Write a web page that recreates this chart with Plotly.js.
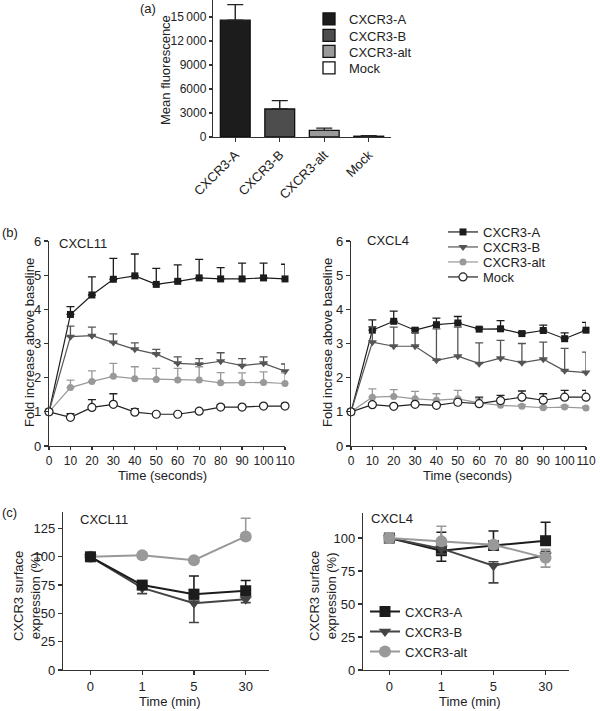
<!DOCTYPE html>
<html>
<head>
<meta charset="utf-8">
<script src="https://cdn.plot.ly/plotly-3.0.1.min.js"></script>
<style>html,body{margin:0;padding:0;background:#fff}#chart{width:600px;height:711px}</style>
</head>
<body>
<div id="chart"></div>
<script>
// ---------- data ----------
var receptors = ['CXCR3-A', 'CXCR3-B', 'CXCR3-alt', 'Mock'];
var meanFluorescence = [14600, 3500, 830, 100];
var meanFluorescenceErr = [1950, 1050, 280, 60];
var fluoTickVals = [0, 3000, 6000, 9000, 12000, 15000];
var fluoTickText = ['0', '3000', '6000', '9000', '12\u2009000', '15\u2009000'];

var timeSec = [0, 10, 20, 30, 40, 50, 60, 70, 80, 90, 100, 110];
var cxcl11A = [1, 3.85, 4.42, 4.88, 4.98, 4.73, 4.82, 4.92, 4.89, 4.89, 4.92, 4.89];
var cxcl11AErr = [0, 0.23, 0.53, 0.61, 0.64, 0.47, 0.48, 0.54, 0.33, 0.46, 0.43, 0.43];
var cxcl11B = [1, 3.2, 3.23, 3.03, 2.83, 2.69, 2.42, 2.39, 2.48, 2.35, 2.42, 2.19];
var cxcl11BErr = [0, 0.31, 0.25, 0.25, 0.19, 0.14, 0.19, 0.17, 0.25, 0.21, 0.19, 0.21];
var cxcl11Alt = [1, 1.71, 1.89, 2.04, 1.97, 1.95, 1.93, 1.93, 1.85, 1.85, 1.86, 1.83];
var cxcl11AltErr = [0, 0.22, 0.31, 0.38, 0.35, 0.32, 0.34, 0.39, 0.3, 0.29, 0.31, 0.31];
var cxcl11Mock = [1, 0.84, 1.13, 1.22, 0.99, 0.93, 0.93, 1.02, 1.14, 1.14, 1.17, 1.17];
var cxcl11MockErr = [0, 0.11, 0.23, 0.31, 0.1, 0.03, 0.03, 0.05, 0.06, 0.06, 0.05, 0.08];

var cxcl4A = [1, 3.39, 3.65, 3.39, 3.55, 3.6, 3.42, 3.43, 3.29, 3.38, 3.14, 3.39];
var cxcl4AErr = [0, 0.3, 0.3, 0.06, 0.19, 0.19, 0.05, 0.24, 0.05, 0.16, 0.17, 0.23];
var cxcl4B = [1, 3.04, 2.92, 2.92, 2.51, 2.63, 2.41, 2.57, 2.44, 2.54, 2.2, 2.15];
var cxcl4BErr = [0, 0.45, 0.56, 0.4, 0.92, 0.85, 0.61, 0.52, 0.56, 0.5, 0.66, 0.6];
var cxcl4Alt = [1, 1.43, 1.45, 1.38, 1.34, 1.38, 1.26, 1.19, 1.16, 1.12, 1.14, 1.11];
var cxcl4AltErr = [0, 0.24, 0.2, 0.22, 0.19, 0.25, 0.12, 0.06, 0.05, 0.04, 0.05, 0.05];
var cxcl4Mock = [1, 1.21, 1.16, 1.22, 1.19, 1.28, 1.24, 1.33, 1.43, 1.34, 1.43, 1.43];
var cxcl4MockErr = [0, 0.05, 0.05, 0.05, 0.05, 0.05, 0.19, 0.15, 0.18, 0.19, 0.2, 0.2];

var timeMinLabels = ['0', '1', '5', '30'];
var timeMinPos = [0, 1, 2, 3];
var surf11A = [100, 75, 67, 70];
var surf11AUp = [3, 3, 16, 9];
var surf11ADown = [3, 3, 3, 3];
var surf11B = [100, 72.5, 59, 62.5];
var surf11BUp = [3, 3, 3, 3];
var surf11BDown = [3, 5, 17, 3];
var surf11Alt = [100, 101.4, 97, 118];
var surf11AltUp = [3, 2, 2, 16];
var surf11AltDown = [3, 2, 2, 3];

var surf4A = [100, 90.4, 94.4, 98];
var surf4AUp = [3, 14, 11, 14];
var surf4ADown = [3, 8, 3, 3];
var surf4B = [100, 92, 79, 87];
var surf4BUp = [3, 3, 3, 3];
var surf4BDown = [3, 4, 13, 3];
var surf4Alt = [100, 97.5, 95, 85];
var surf4AltUp = [3, 11.5, 3, 6.5];
var surf4AltDown = [3, 3, 3, 7];

// ---------- styles ----------
var FONT = 'Liberation Sans, Arial, Helvetica, sans-serif';
var TXT = '#222';
var barColors = ['#1c1c1c', '#4d4d4d', '#9a9a9a', '#ffffff'];
var cA = '#1c1c1c', cB = '#555555', cAlt = '#999999', cMock = '#222222';
var W = 600, H = 711;
function px(x) { return x / W; }
function py(y) { return 1 - y / H; }

var traces = [];
var legends = {};
var legendCount = 0;
function newLegend(xLeft, yCenter) {
  legendCount += 1;
  var key = legendCount === 1 ? 'legend' : 'legend' + legendCount;
  legends[key] = {x: px(xLeft), y: py(yCenter), xanchor: 'left', yanchor: 'middle', bgcolor: 'rgba(0,0,0,0)',
    borderwidth: 0, font: {family: FONT, size: 13, color: TXT}, tracegroupgap: 0};
  return key;
}

// panel (a) bars
var aRows = [19, 35.5, 51.5, 68];
receptors.forEach(function (r, i) {
  traces.push({
    type: 'bar', x: [r], y: [meanFluorescence[i]], name: r,
    xaxis: 'x', yaxis: 'y', width: 0.67, legend: newLegend(309, aRows[i]),
    marker: {color: barColors[i], line: {color: '#111', width: 1.3}},
    error_y: {type: 'data', symmetric: false, array: [meanFluorescenceErr[i]], arrayminus: [0],
      color: '#222', thickness: 1.4, width: 8}
  });
});

function series(x, y, err, xa, ya, name, color, sym, mfill, leg) {
  var open = sym === 'circle' && mfill === '#ffffff';
  return {
    type: 'scatter', mode: 'lines+markers', x: x, y: y, name: name,
    xaxis: xa, yaxis: ya, showlegend: !!leg, legend: leg || 'legend', cliponaxis: false,
    line: {color: color, width: 1.2},
    marker: {symbol: sym, size: sym === 'triangle-down' ? 8 : (open ? 8 : 7), color: mfill,
      line: {color: color, width: open ? 1.2 : 0}},
    error_y: {type: 'data', symmetric: false, array: err, arrayminus: err.map(function () { return 0; }),
      color: color, thickness: 1.3, width: 4}
  };
}
// panel (b) left
traces.push(series(timeSec, cxcl11A, cxcl11AErr, 'x2', 'y2', 'CXCR3-A', cA, 'square', cA, null));
traces.push(series(timeSec, cxcl11B, cxcl11BErr, 'x2', 'y2', 'CXCR3-B', cB, 'triangle-down', cB, null));
traces.push(series(timeSec, cxcl11Alt, cxcl11AltErr, 'x2', 'y2', 'CXCR3-alt', cAlt, 'circle', cAlt, null));
traces.push(series(timeSec, cxcl11Mock, cxcl11MockErr, 'x2', 'y2', 'Mock', cMock, 'circle', '#ffffff', null));
// panel (b) right
var bX = 443;
traces.push(series(timeSec, cxcl4A, cxcl4AErr, 'x3', 'y3', 'CXCR3-A', cA, 'square', cA, newLegend(bX, 232)));
traces.push(series(timeSec, cxcl4B, cxcl4BErr, 'x3', 'y3', 'CXCR3-B', cB, 'triangle-down', cB, newLegend(bX, 247)));
traces.push(series(timeSec, cxcl4Alt, cxcl4AltErr, 'x3', 'y3', 'CXCR3-alt', cAlt, 'circle', cAlt, newLegend(bX, 262)));
traces.push(series(timeSec, cxcl4Mock, cxcl4MockErr, 'x3', 'y3', 'Mock', cMock, 'circle', '#ffffff', newLegend(bX, 277)));

function surf(y, up, down, xa, ya, name, color, sym, leg) {
  return {
    type: 'scatter', mode: 'lines+markers', x: timeMinPos, y: y, name: name,
    xaxis: xa, yaxis: ya, showlegend: !!leg, legend: leg || 'legend', cliponaxis: false,
    line: {color: color, width: 2},
    marker: {symbol: sym, size: sym === 'circle' ? 12 : 11, color: color},
    error_y: {type: 'data', symmetric: false, array: up, arrayminus: down, color: color, thickness: 1.6, width: 5}
  };
}
// panel (c)
traces.push(surf(surf11Alt, surf11AltUp, surf11AltDown, 'x4', 'y4', 'CXCR3-alt', cAlt, 'circle', null));
traces.push(surf(surf11B, surf11BUp, surf11BDown, 'x4', 'y4', 'CXCR3-B', '#444444', 'triangle-down', null));
traces.push(surf(surf11A, surf11AUp, surf11ADown, 'x4', 'y4', 'CXCR3-A', cA, 'square', null));
var cX = 365;
traces.push(surf(surf4A, surf4AUp, surf4ADown, 'x5', 'y5', 'CXCR3-A', cA, 'square', newLegend(cX, 611.5)));
traces.push(surf(surf4B, surf4BUp, surf4BDown, 'x5', 'y5', 'CXCR3-B', '#444444', 'triangle-down', newLegend(cX, 631.5)));
traces.push(surf(surf4Alt, surf4AltUp, surf4AltDown, 'x5', 'y5', 'CXCR3-alt', cAlt, 'circle', newLegend(cX, 651.5)));

var axBase = {showline: true, linecolor: '#333', linewidth: 1.2, ticks: 'outside', ticklen: 4, tickwidth: 1.2,
  tickcolor: '#333', showgrid: false, zeroline: false, tickfont: {family: FONT, size: 13, color: TXT}};
function ax(extra) { return Object.assign({}, axBase, extra); }
var secTickFont = {family: FONT, size: 12, color: TXT};

var layout = {
  width: W, height: H, margin: {l: 0, r: 0, t: 0, b: 0}, paper_bgcolor: '#fff', plot_bgcolor: 'rgba(0,0,0,0)',
  barmode: 'overlay', font: {family: FONT, size: 12, color: TXT},
  xaxis: ax({domain: [px(213), px(391)], anchor: 'y', range: [-0.5, 3.5], tickangle: -45, type: 'category', ticklen: 4}),
  yaxis: ax({domain: [py(137), 1], anchor: 'x', range: [0, 17125], tickvals: fluoTickVals, ticktext: fluoTickText,
    ticklen: 3, tickfont: {family: FONT, size: 12, color: TXT}}),
  xaxis2: ax({domain: [px(49), px(285)], anchor: 'y2', range: [0, 110], dtick: 10, tick0: 0, tickangle: 0, ticklen: 3, tickfont: secTickFont}),
  yaxis2: ax({domain: [py(446), py(241)], anchor: 'x2', range: [0, 6], dtick: 1}),
  xaxis3: ax({domain: [px(351), px(586)], anchor: 'y3', range: [0, 110], dtick: 10, tick0: 0, tickangle: 0, ticklen: 3, tickfont: secTickFont}),
  yaxis3: ax({domain: [py(446), py(241)], anchor: 'x3', range: [0, 6], dtick: 1}),
  xaxis4: ax({domain: [px(63), px(269)], anchor: 'y4', range: [-0.53, 3.45], tickvals: timeMinPos, ticktext: timeMinLabels, tickangle: 0}),
  yaxis4: ax({domain: [py(670), py(511.5)], anchor: 'x4', range: [0, 140], tickvals: [0, 25, 50, 75, 100, 125]}),
  xaxis5: ax({domain: [px(363), px(569)], anchor: 'y5', range: [-0.505, 3.45], tickvals: timeMinPos, ticktext: timeMinLabels, tickangle: 0}),
  yaxis5: ax({domain: [py(670), py(513)], anchor: 'x5', range: [0, 119], tickvals: [0, 25, 50, 75, 100]}),
  annotations: []
};
Object.keys(legends).forEach(function (k) { layout[k] = legends[k]; });

function note(text, x, y, opts) {
  layout.annotations.push(Object.assign({text: text, x: px(x), y: py(y), xref: 'paper', yref: 'paper', showarrow: false,
    xanchor: 'center', yanchor: 'middle', font: {family: FONT, size: 13, color: TXT}}, opts || {}));
}
note('(a)', 148, 9);
note('(b)', 10, 233);
note('(c)', 9, 512);
note('CXCL11', 83, 243);
note('CXCL4', 388, 240);
note('CXCL11', 104, 519);
note('CXCL4', 392, 518);
note('Mean fluorescence', 166, 70, {textangle: -90});
note('Fold increase above baseline', 30, 343, {textangle: -90});
note('Fold increase above baseline', 328, 343, {textangle: -90});
note('Time (seconds)', 162, 475);
note('Time (seconds)', 467, 475);
note('CXCR3 surface<br>expression (%)', 27, 596, {textangle: -90});
note('CXCR3 surface<br>expression (%)', 323, 596, {textangle: -90});
note('Time (min)', 170, 701);
note('Time (min)', 470, 701);

Plotly.newPlot('chart', traces, layout, {displayModeBar: false, staticPlot: true});
</script>
</body>
</html>
